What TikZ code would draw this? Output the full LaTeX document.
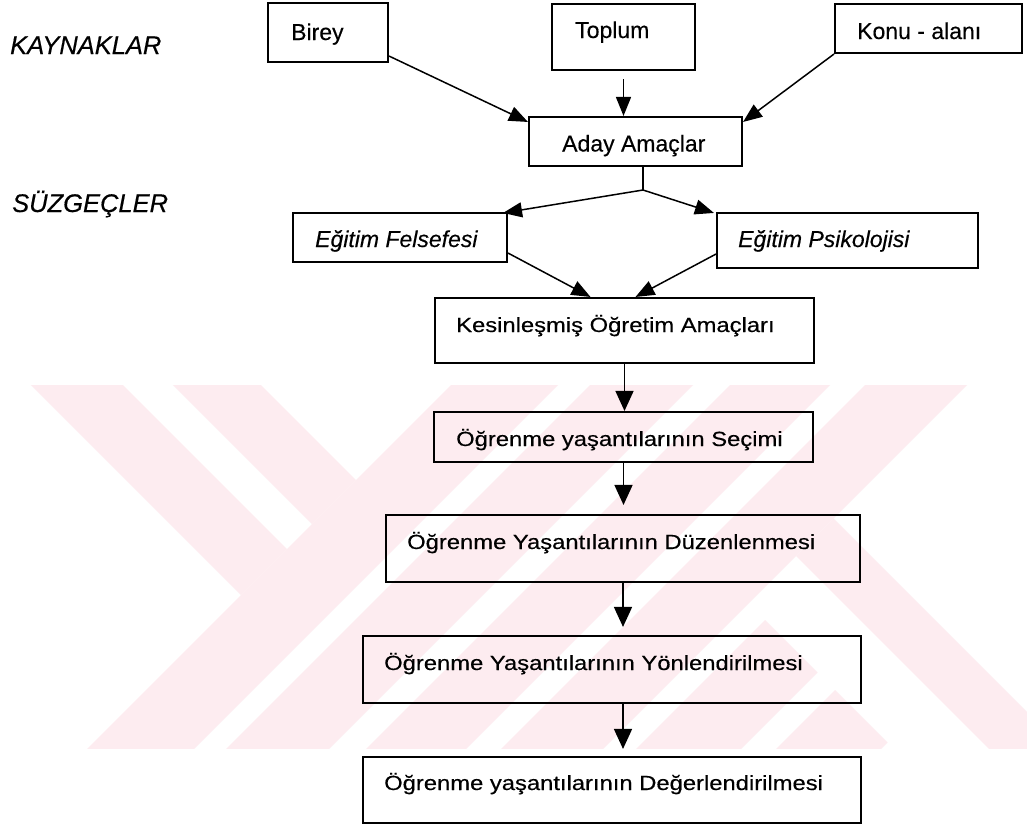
\documentclass[tikz,border=0pt]{standalone}
\usepackage{fontspec}
\setmainfont{Liberation Sans}[FakeBold=0.35]
\usetikzlibrary{arrows.meta,calc}
\definecolor{wmpink}{RGB}{253,236,240}
% slightly widened lettering used in the lower boxes
\newcommand{\wide}[1]{\scalebox{1.16}[1]{#1}}

\begin{document}
\begin{tikzpicture}[x=1pt,y=-1pt,
  box/.style={draw, line width=2.1pt, rectangle, inner sep=0pt},
  lbl/.style={anchor=base west, inner sep=0pt, font=\fontsize{23}{27}\selectfont},
  lowlbl/.style={anchor=base west, inner sep=0pt, font=\fontsize{20.5}{25}\selectfont},
  side/.style={anchor=base west, inner sep=0pt, font=\fontsize{25.5}{30}\selectfont\itshape},
  arr/.style={line width=1.5pt, -{Triangle[length=19pt,width=15pt]}},
  bigarr/.style={line width=1.5pt, -{Triangle[length=20pt,width=18pt]}},
  plain/.style={line width=1.5pt}]
\useasboundingbox (0,0) rectangle (1027,825);
\fill[white] (0,0) rectangle (1027,825);

% background emblem: diagonal bands in a horizontal strip
\begin{scope}
  \clip (0,385) rectangle (1027,748);
  \fill[wmpink] (536,300) -- (643,300) -- (143,800) -- (36,800) -- cycle;
  \fill[wmpink] (-54,300) -- (38,300) -- (287,549) -- (241,595) -- cycle;
  \fill[wmpink] (88,300) -- (176,300) -- (356,480) -- (312,524) -- cycle;
  \fill[wmpink] (675,300) -- (778,300) -- (278,800) -- (175,800) -- cycle;
  \fill[wmpink] (815,300) -- (915,300) -- (415,800) -- (315,800) -- cycle;
  \fill[wmpink] (950,300) -- (1052,300) -- (552,800) -- (450,800) -- cycle;
  \fill[wmpink] (765,620) -- (817.5,672.5) -- (690,800) -- (585,800) -- cycle;
  \fill[wmpink] (835,690) -- (887.5,742.5) -- (830,800) -- (725,800) -- cycle;
  \fill[wmpink] (833.5,518.5) -- (1100,785) -- (1100,860) -- (796,556) -- cycle;
\end{scope}

% side headings
\node[side] (kaynak) at (10,54) {KAYNAKLAR};
\node[side] (suzgec) at (12,212) {SÜZGEÇLER};

% boxes
\node[box, minimum width=120pt, minimum height=59pt] (birey) at (328,32.5) {};
\node[box, minimum width=143pt, minimum height=66pt] (toplum) at (623.5,37) {};
\node[box, minimum width=187pt, minimum height=49pt] (konu) at (928.5,28.5) {};
\node[box, minimum width=213pt, minimum height=49pt] (aday) at (635.5,141.5) {};
\node[box, minimum width=214pt, minimum height=49pt] (felsefe) at (400,237.5) {};
\node[box, minimum width=261pt, minimum height=55pt] (psiko) at (847.5,240.5) {};
\node[box, minimum width=379pt, minimum height=65pt] (kesin) at (624.5,330.5) {};
\node[box, minimum width=379pt, minimum height=50pt] (secim) at (623.5,437) {};
\node[box, minimum width=474pt, minimum height=67pt] (duzen) at (623,548.5) {};
\node[box, minimum width=498pt, minimum height=67pt] (yonlen) at (612,669.5) {};
\node[box, minimum width=498pt, minimum height=66pt] (deger) at (612,790) {};

% box texts
\node[lbl] (tbirey) at (291,40) {Birey};
\node[lbl] (ttoplum) at (575,38) {Toplum};
\node[lbl] (tkonu) at (857,39) {Konu - alanı};
\node[lbl] (taday) at (562,151.5) {Aday Amaçlar};
\node[lbl, font=\fontsize{23}{27}\selectfont\itshape] (tfelsefe) at (315,247) {Eğitim Felsefesi};
\node[lbl, font=\fontsize{23}{27}\selectfont\itshape] (tpsiko) at (738,247) {Eğitim Psikolojisi};
\node[lowlbl] (tkesin) at (456,332) {\wide{Kesinleşmiş Öğretim Amaçları}};
\node[lowlbl] (tsecim) at (456,446) {\wide{Öğrenme yaşantılarının Seçimi}};
\node[lowlbl] (tduzen) at (407,549) {\wide{Öğrenme Yaşantılarının Düzenlenmesi}};
\node[lowlbl] (tyonlen) at (384,670) {\wide{Öğrenme Yaşantılarının Yönlendirilmesi}};
\node[lowlbl] (tdeger) at (384,790) {\wide{Öğrenme yaşantılarının Değerlendirilmesi}};

% sources into candidate aims
\draw[arr] ([yshift=7pt]birey.south east) -- ([yshift=-6pt]aday.north west);
\draw[arr] ([yshift=-8pt]toplum.south) -- (toplum.south |- aday.north);
\draw[arr] (konu.south west) -- ([yshift=-6pt]aday.north east);

% through the filters
\coordinate (fork) at (643,190);
\draw[plain] (aday.south -| fork) -- (fork);
\draw[arr] (fork) -- ([xshift=-5pt,yshift=-1pt]felsefe.north east);
\draw[arr] (fork) -- ([xshift=-2pt,yshift=-1pt]psiko.north west);
\draw[arr] ([yshift=10pt]felsefe.south east) -- ([xshift=-34pt]kesin.north);
\draw[arr] ([yshift=15pt]psiko.south west) -- ([xshift=11pt]kesin.north);

% the main chain
\draw[bigarr] (kesin.south) -- (kesin.south |- secim.north);
\draw[bigarr, shorten >=9pt] (secim.south) -- (secim.south |- duzen.north);
\draw[bigarr, shorten >=8pt] (duzen.south) -- (duzen.south |- yonlen.north);
\draw[bigarr, shorten >=7pt] (duzen.south |- yonlen.south) -- (duzen.south |- deger.north);
\end{tikzpicture}
\end{document}
